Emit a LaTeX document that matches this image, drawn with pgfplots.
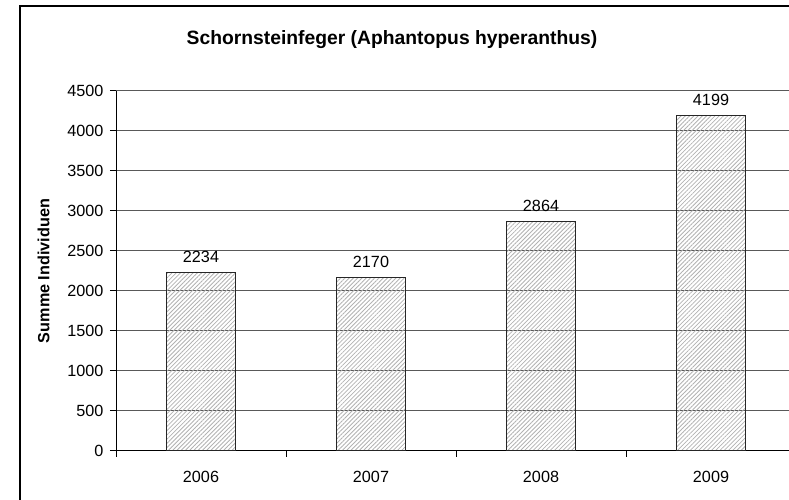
\documentclass[border=0pt]{standalone}
\usepackage{pgfplots}
\pgfplotsset{compat=1.18}
\usepackage{fontspec}
\setmainfont{Liberation Sans}
\usetikzlibrary{patterns.meta}

\pgfplotstableread{
x year n
0 2006 2234
1 2007 2170
2 2008 2864
3 2009 4199
}\schornstein

\begin{document}
\begin{tikzpicture}[x=1pt,y=1pt]
% picture is 789 x 500, the chart frame runs past the right and lower edge
\useasboundingbox (0,0) rectangle (789,500);
\clip (0,0) rectangle (789,500);
\draw[line width=1.6pt] (20,-20) rectangle (820,494);
\node[font=\bfseries\fontsize{19.3}{23}\selectfont] at (392,460) {Schornsteinfeger (Aphantopus hyperanthus)};
\begin{axis}[
  at={(116pt,49pt)}, anchor=south west,
  scale only axis, width=680pt, height=360pt,
  xmin=-0.5, xmax=3.5, ymin=0, ymax=4500,
  axis x line*=bottom, axis y line*=left,
  axis line style={line width=1pt, black},
  ytick={0,500,...,4500},
  ymajorgrids, grid style={line width=1pt, black!65},
  xtick={-0.5,0.5,1.5,2.5,3.5}, xticklabels={},
  extra x ticks={0,1,2,3},
  extra x tick labels={2006,2007,2008,2009},
  extra x tick style={major tick length=0pt, grid=none},
  tick align=outside, major tick length=6pt,
  tick style={line width=1pt, black},
  ticklabel style={font=\fontsize{16.2}{19}\selectfont},
  xticklabel style={yshift=-17pt},
  yticklabel style={xshift=-3pt},
  /pgf/number format/assume math mode=true,
  /pgf/number format/1000 sep={},
  ylabel={\bfseries Summe Individuen},
  ylabel style={font=\fontsize{16.2}{19}\selectfont},
  ylabel shift=11pt,
  clip=false,
]
\addplot[ybar, bar width=69pt, draw=black!85, line width=1pt,
  pattern={Lines[angle=45, distance=3pt, line width=0.8pt]}, pattern color=black!30,
  nodes near coords, every node near coord/.append style={font=\fontsize{16.2}{19}\selectfont, yshift=6pt},
  /pgf/number format/1000 sep={}]
  table[x=x, y=n] {\schornstein};
\end{axis}
\end{tikzpicture}
\end{document}
